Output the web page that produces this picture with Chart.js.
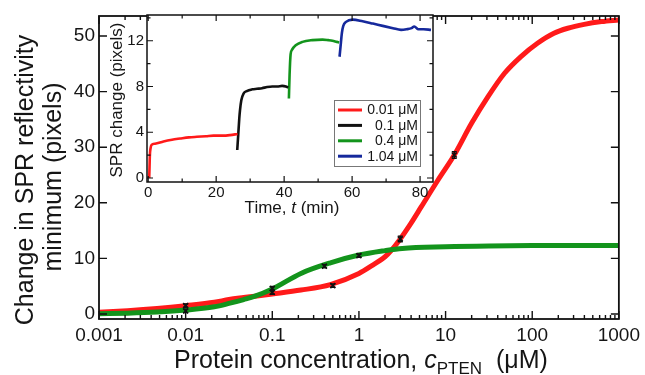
<!DOCTYPE html>
<html><head><meta charset="utf-8">
<script src="https://cdn.jsdelivr.net/npm/chart.js@4.4.0/dist/chart.umd.min.js"></script>
<style>
html,body{margin:0;padding:0;background:#fff;}
#wrap{position:relative;width:645px;height:375px;overflow:hidden;}
#main{position:absolute;left:0;top:0;}
#inset{position:absolute;left:100px;top:0;}
</style></head><body>
<div id="wrap"><canvas id="main" width="645" height="375"></canvas><canvas id="inset" width="345" height="230"></canvas></div>
<script>
const FAMILY = "'Liberation Sans', Arial, Helvetica, sans-serif";

// ---------- Main panel data ----------
const redConc   = [0.001, 0.00214, 0.00468, 0.01, 0.0214, 0.0316, 0.0468, 0.0631, 0.1, 0.214, 0.468, 1, 1.41, 2, 2.38, 3, 3.98, 5.25, 8.18, 12.6, 19.95, 30.9, 47.9, 74.1, 115, 178, 257, 398, 631, 1000];
const redFit    = [0.3,   0.6,     1.0,     1.5,  2.1,    2.6,    2.95,   3.2,    3.6, 4.3,   5.3,   7.3, 8.7, 10.3, 11.5, 13.5, 16.3, 19.3, 24.1, 28.6, 34.3, 39.1, 43.3, 46.3, 48.7, 50.5, 51.4, 52.1, 52.6, 52.9];
const greenConc = [0.001, 0.00214, 0.00468, 0.01, 0.0214, 0.0316, 0.0468, 0.0631, 0.1, 0.214, 0.468, 1, 2, 3.16, 10, 31.6, 100, 1000];
const greenFit  = [0.05,  0.15,    0.35,    0.7,  1.3,    1.9,    2.6,    3.2,    4.5, 7.3,   9.2,   10.6, 11.4, 11.8, 12.1, 12.25, 12.3, 12.3];
const pointConc   = [0.01, 0.01, 0.1, 0.1, 0.4, 0.5, 1, 3, 12.6];
const pointSignal = [1.5, 0.55, 4.6, 3.9, 8.6, 5.1, 10.5, 13.5, 28.6];
const pointErr    = [0.3, 0.3, 0.35, 0.35, 0.3, 0.3, 0.3, 0.5, 0.6];
const xTickValues = [0.001, 0.01, 0.1, 1, 10, 100, 1000];
const xTickLabels = ['0.001', '0.01', '0.1', '1', '10', '100', '1000'];
const yTickValues = [0, 10, 20, 30, 40, 50];
const yTickLabels = ['0', '10', '20', '30', '40', '50'];

// ---------- Inset data ----------
const insetLabels = ['0.01 \u03bcM', '0.1 \u03bcM', '0.4 \u03bcM', '1.04 \u03bcM'];
const redTime   = [0.3, 0.4, 0.5, 0.7, 1.0, 2, 4.5, 7, 9.4, 12, 14.3, 17, 19.2, 22, 24.1, 26.3];
const redSPR    = [0.0, 1.0, 2.0, 2.6, 2.9, 3.0, 3.2, 3.35, 3.45, 3.55, 3.6, 3.65, 3.7, 3.7, 3.75, 3.85];
const blackTime = [26.2, 26.5, 26.8, 27.0, 27.4, 28.1, 29, 30.6, 32, 33.5, 35, 36.5, 38, 39.4, 40.5, 41.2];
const blackSPR  = [2.45, 3.8, 5.2, 5.9, 6.8, 7.4, 7.6, 7.75, 7.8, 7.85, 7.95, 8.0, 8.0, 8.05, 8.0, 7.9];
const greenTime = [41.4, 41.6, 41.9, 42.3, 43.4, 45.4, 48.3, 51.3, 53, 54.2, 55.5, 56.2];
const greenSPR  = [6.95, 9.0, 10.8, 11.2, 11.6, 11.9, 12.05, 12.1, 12.05, 12.0, 11.9, 11.85];
const blueTime  = [56.3, 56.6, 57.0, 57.4, 58.2, 60.2, 63.1, 66.1, 69, 72, 74.4, 76, 77.5, 78.3, 79.5, 81, 83.2];
const blueSPR   = [10.6, 11.5, 12.7, 13.3, 13.65, 13.85, 13.7, 13.5, 13.3, 13.1, 12.95, 13.0, 13.1, 13.25, 13.0, 13.0, 12.95];
const insetXMajor = [0, 20, 40, 60, 80];
const insetXMinor = [10, 30, 50, 70];
const insetYMajor = [0, 4, 8, 12];
const insetYMinor = [2, 6, 10, 14];

const RED = '#ff1a1a', GREEN = '#13941c', BLUE = '#16299c', BLACK = '#111111';

function pts(xs, ys) { return xs.map((x, i) => ({x, y: ys[i]})); }

// frame + inward ticks
function frameTicksPlugin(o) {
  return {
    id: 'frameTicks',
    beforeDraw(chart) {
      if (!o.fill) return;
      const a = chart.chartArea, ctx = chart.ctx;
      ctx.save(); ctx.fillStyle = '#fff';
      ctx.fillRect(a.left, a.top, a.right - a.left, a.bottom - a.top);
      ctx.restore();
    },
    afterDraw(chart) {
      const {ctx, chartArea: a, scales} = chart;
      ctx.save();
      ctx.strokeStyle = '#111';
      ctx.lineWidth = o.tickWidth;
      ctx.beginPath();
      scales.x.ticks.forEach(t => {
        const px = scales.x.getPixelForValue(t.value);
        if (px < a.left - 0.5 || px > a.right + 0.5) return;
        const len = t.major ? o.major : o.minor;
        ctx.moveTo(px, a.bottom); ctx.lineTo(px, a.bottom - len);
        ctx.moveTo(px, a.top); ctx.lineTo(px, a.top + len);
      });
      scales.y.ticks.forEach(t => {
        const py = scales.y.getPixelForValue(t.value);
        if (py < a.top - 0.5 || py > a.bottom + 0.5) return;
        const len = t.major ? o.major : o.minor;
        ctx.moveTo(a.left, py); ctx.lineTo(a.left + len, py);
        ctx.moveTo(a.right, py); ctx.lineTo(a.right - len, py);
      });
      ctx.stroke();
      ctx.lineWidth = o.border;
      ctx.strokeRect(a.left, a.top, a.right - a.left, a.bottom - a.top);
      ctx.restore();
    }
  };
}

function drawRuns(ctx, runs, cx, baseline) {
  let total = 0;
  runs.forEach(r => { ctx.font = r.font; r.w = ctx.measureText(r.text).width; total += r.w; });
  let x = cx - total / 2;
  ctx.textAlign = 'left'; ctx.textBaseline = 'alphabetic';
  runs.forEach(r => { ctx.font = r.font; ctx.fillText(r.text, x, baseline + (r.dy || 0)); x += r.w; });
}

const errorBarPlugin = {
  id: 'errorBars',
  afterDatasetsDraw(chart) {
    const {ctx, scales} = chart;
    ctx.save();
    ctx.strokeStyle = BLACK; ctx.lineWidth = 1.4;
    ctx.beginPath();
    pointConc.forEach((c, i) => {
      const px = scales.x.getPixelForValue(c);
      const y1 = scales.y.getPixelForValue(pointSignal[i] - pointErr[i]);
      const y2 = scales.y.getPixelForValue(pointSignal[i] + pointErr[i]);
      ctx.moveTo(px, y1); ctx.lineTo(px, y2);
      ctx.moveTo(px - 2.5, y1); ctx.lineTo(px + 2.5, y1);
      ctx.moveTo(px - 2.5, y2); ctx.lineTo(px + 2.5, y2);
    });
    ctx.stroke();
    ctx.restore();
  }
};

const mainTitles = {
  id: 'mainTitles',
  afterDraw(chart) {
    const ctx = chart.ctx, a = chart.chartArea;
    ctx.save();
    ctx.fillStyle = '#151515';
    ctx.font = '25px ' + FAMILY;
    ctx.textAlign = 'center'; ctx.textBaseline = 'middle';
    ctx.translate(26, 180); ctx.rotate(-Math.PI / 2);
    ctx.fillText('Change in SPR reflectivity', 0, 0);
    ctx.restore();
    ctx.save();
    ctx.fillStyle = '#151515';
    ctx.font = '25px ' + FAMILY;
    ctx.textAlign = 'center'; ctx.textBaseline = 'middle';
    ctx.translate(54, 177); ctx.rotate(-Math.PI / 2);
    ctx.fillText('minimum (pixels)', 0, 0);
    ctx.restore();
    ctx.save();
    ctx.fillStyle = '#151515';
    drawRuns(ctx, [
      {text: 'Protein concentration, ', font: '25px ' + FAMILY},
      {text: 'c', font: 'italic 25px ' + FAMILY},
      {text: 'PTEN', font: '17px ' + FAMILY, dy: 6},
      {text: '  (\u03bcM)', font: '25px ' + FAMILY}
    ], (a.left + a.right) / 2 + 2, 368);
    ctx.restore();
  }
};

new Chart(document.getElementById('main'), {
  type: 'line',
  data: {
    datasets: [
      {label: 'data', type: 'scatter', data: pts(pointConc, pointSignal), showLine: false,
       pointStyle: 'crossRot', pointRadius: 3.5, borderColor: BLACK, backgroundColor: BLACK, borderWidth: 1.6},
      {label: 'green fit', data: pts(greenConc, greenFit), borderColor: GREEN, borderWidth: 5,
       pointRadius: 0, fill: false, cubicInterpolationMode: 'monotone'},
      {label: 'red fit', data: pts(redConc, redFit), borderColor: RED, borderWidth: 5,
       pointRadius: 0, fill: false, cubicInterpolationMode: 'monotone'}
    ]
  },
  options: {
    responsive: false, animation: false, devicePixelRatio: 1,
    layout: {padding: {left: 0, right: 23, top: 16, bottom: 0}},
    plugins: {legend: {display: false}, tooltip: {enabled: false}},
    scales: {
      x: {
        type: 'logarithmic', min: 0.001, max: 1000,
        afterBuildTicks(s) {
          const t = [];
          xTickValues.forEach((v, i) => {
            t.push({value: v, major: true});
            if (i < xTickValues.length - 1) for (let k = 2; k <= 9; k++) t.push({value: v * k, major: false});
          });
          s.ticks = t;
        },
        afterFit(s) { s.height = 56; },
        grid: {display: false, drawTicks: false}, border: {display: false},
        ticks: {autoSkip: false, maxRotation: 0, minRotation: 0, padding: 5, color: '#151515',
          font: {family: FAMILY, size: 19},
          callback(v, i, ticks) {
            const k = xTickValues.findIndex(x => Math.abs(x - v) / x < 1e-6);
            return k >= 0 ? xTickLabels[k] : '';
          }}
      },
      y: {
        type: 'linear', min: -0.9, max: 53.6,
        afterBuildTicks(s) { s.ticks = yTickValues.map(v => ({value: v, major: true})); },
        afterFit(s) { s.width = 99; },
        grid: {display: false, drawTicks: false}, border: {display: false},
        ticks: {padding: 4, color: '#151515', font: {family: FAMILY, size: 19},
          callback(v) { const k = yTickValues.indexOf(v); return k >= 0 ? yTickLabels[k] : ''; }}
      }
    }
  },
  plugins: [frameTicksPlugin({border: 1.8, tickWidth: 1.4, major: 8, minor: 4}), errorBarPlugin, mainTitles]
});

// ---------- Inset ----------
const insetDecor = {
  id: 'insetDecor',
  afterDraw(chart) {
    const ctx = chart.ctx, a = chart.chartArea;
    ctx.save();
    ctx.fillStyle = '#151515';
    ctx.font = '17px ' + FAMILY;
    ctx.textAlign = 'center'; ctx.textBaseline = 'middle';
    ctx.translate(17, 100); ctx.rotate(-Math.PI / 2);
    ctx.fillText('SPR change (pixels)', 0, 0);
    ctx.restore();
    ctx.save();
    ctx.fillStyle = '#151515';
    drawRuns(ctx, [
      {text: 'Time, ', font: '17px ' + FAMILY},
      {text: 't', font: 'italic 17px ' + FAMILY},
      {text: ' (min)', font: '17px ' + FAMILY}
    ], 192, 213);
    ctx.restore();
    // legend
    const right = a.right - 13, bottom = a.bottom - 16, w = 86, h = 66;
    const left = right - w, top = bottom - h;
    ctx.save();
    ctx.fillStyle = '#fff';
    ctx.fillRect(left, top, w, h);
    ctx.strokeStyle = '#777'; ctx.lineWidth = 1;
    ctx.strokeRect(left + 0.5, top + 0.5, w, h);
    ctx.font = '14px ' + FAMILY;
    ctx.textAlign = 'right'; ctx.textBaseline = 'middle';
    chart.data.datasets.forEach((ds, i) => {
      const y = top + 10 + i * 15.4;
      ctx.strokeStyle = ds.borderColor; ctx.lineWidth = 3;
      ctx.beginPath(); ctx.moveTo(left + 4, y); ctx.lineTo(left + 28, y); ctx.stroke();
      ctx.fillStyle = '#151515';
      ctx.fillText(ds.label, right - 2, y + 0.5);
    });
    ctx.restore();
  }
};

function insetTicks(major, minor) {
  return s => {
    s.ticks = major.map(v => ({value: v, major: true})).concat(minor.map(v => ({value: v, major: false})));
  };
}

new Chart(document.getElementById('inset'), {
  type: 'line',
  data: {
    datasets: [
      {label: insetLabels[0], data: pts(redTime, redSPR), borderColor: RED},
      {label: insetLabels[1], data: pts(blackTime, blackSPR), borderColor: BLACK},
      {label: insetLabels[2], data: pts(greenTime, greenSPR), borderColor: GREEN},
      {label: insetLabels[3], data: pts(blueTime, blueSPR), borderColor: BLUE}
    ].map(d => Object.assign(d, {borderWidth: 2.6, pointRadius: 0, fill: false, cubicInterpolationMode: 'monotone'}))
  },
  options: {
    responsive: false, animation: false, devicePixelRatio: 1,
    layout: {padding: {left: 0, right: 12, top: 15, bottom: 0}},
    plugins: {legend: {display: false}, tooltip: {enabled: false}},
    scales: {
      x: {
        type: 'linear', min: -0.35, max: 83.8,
        afterBuildTicks: insetTicks(insetXMajor, insetXMinor),
        afterFit(s) { s.height = 48; },
        grid: {display: false, drawTicks: false}, border: {display: false},
        ticks: {autoSkip: false, maxRotation: 0, padding: 2, color: '#151515', font: {family: FAMILY, size: 15},
          callback(v) { return insetXMajor.indexOf(v) >= 0 ? String(v) : ''; }}
      },
      y: {
        type: 'linear', min: -0.35, max: 14.25,
        afterBuildTicks: insetTicks(insetYMajor, insetYMinor),
        afterFit(s) { s.width = 47; },
        grid: {display: false, drawTicks: false}, border: {display: false},
        ticks: {autoSkip: false, padding: 3, color: '#151515', font: {family: FAMILY, size: 15},
          callback(v) { return insetYMajor.indexOf(v) >= 0 ? String(v) : ''; }}
      }
    }
  },
  plugins: [frameTicksPlugin({fill: true, border: 1.5, tickWidth: 1.2, major: 6, minor: 3.5}), insetDecor]
});
</script>
</body></html>
